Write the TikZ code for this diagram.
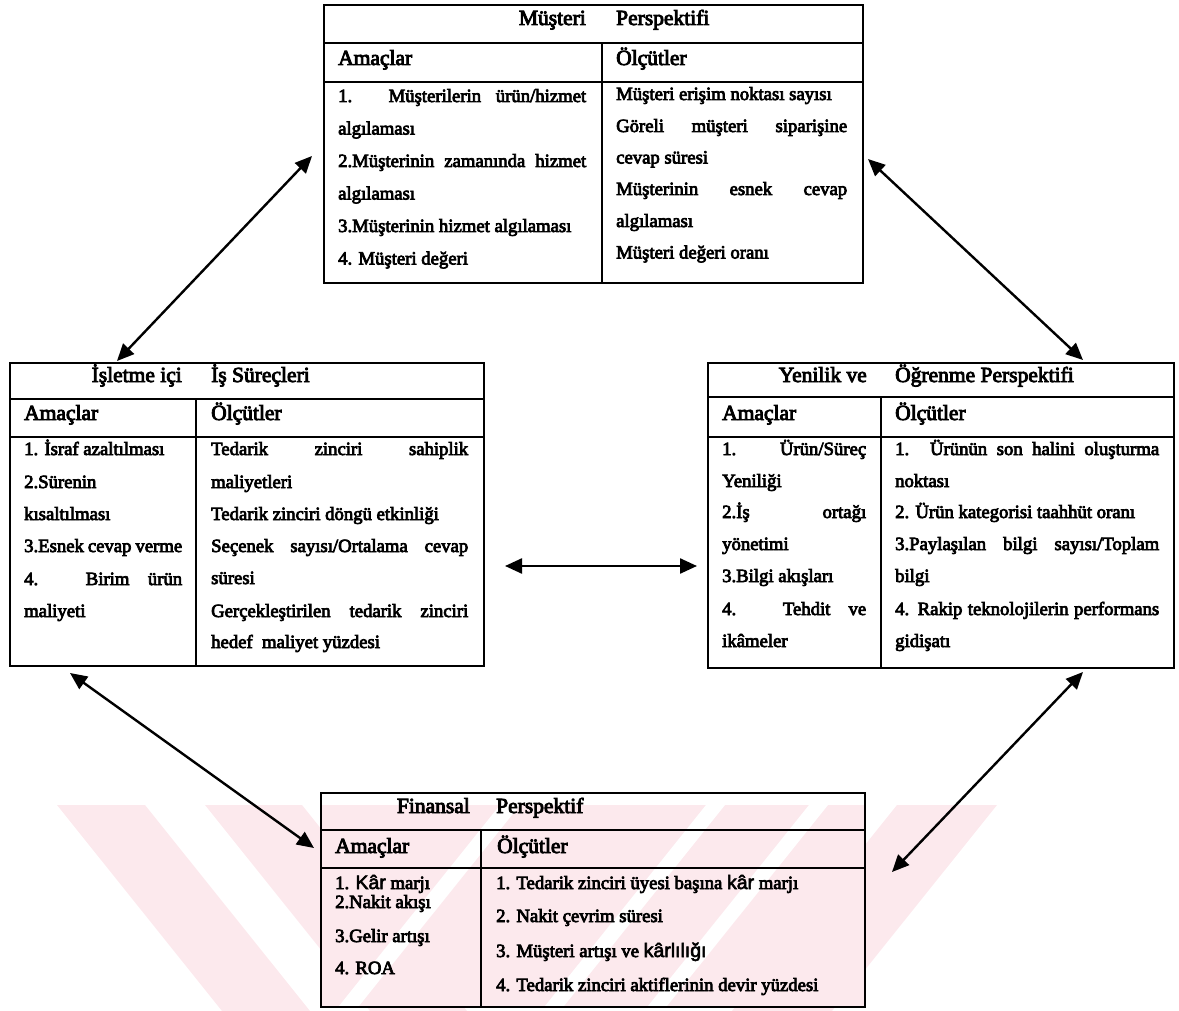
\documentclass[tikz,border=0pt]{standalone}
\usepackage{fontspec}
\setmainfont{Liberation Serif}
\usetikzlibrary{arrows.meta}
% slightly emboldened serif faces for the table texts
\font\bodyF="Liberation Serif:embolden=4" at 18.7pt
\font\headF="Liberation Serif:embolden=4" at 21.5pt
\font\karF="Liberation Sans:embolden=3" at 19.5pt
\definecolor{wm}{RGB}{252,233,237}
\newcommand{\bodyfont}{\bodyF}
\newcommand{\headfont}{\headF}
\newcommand{\jline}[2]{\makebox[#1][s]{#2}}
\newcommand{\kar}[1]{{\karF #1}}

\tikzset{
  frame/.style={draw, line width=1.8pt, inner sep=0pt, anchor=north west},
  rule/.style={line width=1.8pt},
  txt/.style={anchor=base west, inner sep=0pt, font=\bodyfont},
  titl/.style={anchor=base east, inner sep=0pt, font=\headfont},
  head/.style={anchor=base west, inner sep=0pt, font=\headfont},
  link/.style={line width=2.4pt,
    {Triangle[length=17pt,width=15pt]}-{Triangle[length=17pt,width=15pt]}},
}

\begin{document}
\begin{tikzpicture}[x=1pt,y=-1pt]
\useasboundingbox (0,0) rectangle (1179,1011);

% faint background stripes
\begin{scope}[fill=wm]
  \fill (57,805) -- (145,805) -- (310,1011) -- (222,1011) -- cycle;
  \fill (205,805) -- (302,805) -- (467,1011) -- (370,1011) -- cycle;
  \fill (897,805) -- (997,805) -- (832,1011) -- (732,1011) -- cycle;
  \fill (320,805) rectangle (864,1006);
\end{scope}
\begin{scope}
  \clip (320,805) rectangle (864,1006);
  \fill[white] (500,805) -- (520,805) -- (359,1006) -- (339,1006) -- cycle;
  \fill[white] (706,805) -- (725,805) -- (564,1006) -- (545,1006) -- cycle;
  \fill[white] (809,805) -- (828,805) -- (667,1006) -- (648,1006) -- cycle;
\end{scope}

% ---------------- Müşteri Perspektifi ----------------
\node[frame, minimum width=539pt, minimum height=278pt] (mp) at (323,4) {};
\draw[rule] (323,43) -- (862,43);
\draw[rule] (323,82) -- (862,82);
\draw[rule] (602,43) -- (602,282);
\node[titl] (mpt1) at (586,25) {Müşteri};
\node[head] (mpt2) at (616,25) {Perspektifi};
\node[head] (mph1) at (338,65) {Amaçlar};
\node[head] (mph2) at (616,65) {Ölçütler};
\node[txt] (mpa1) at (338,102) {\jline{248pt}{1. Müşterilerin ürün/hizmet}};
\node[txt] (mpa2) at (338,134.5) {algılaması};
\node[txt] (mpa3) at (338,167) {\jline{248pt}{2.Müşterinin zamanında hizmet}};
\node[txt] (mpa4) at (338,199.5) {algılaması};
\node[txt] (mpa5) at (338,232) {3.Müşterinin hizmet algılaması};
\node[txt] (mpa6) at (338,264.5) {4. Müşteri değeri};
\node[txt] (mpo1) at (616,100) {Müşteri erişim noktası sayısı};
\node[txt] (mpo2) at (616,132) {\jline{231pt}{Göreli müşteri siparişine}};
\node[txt] (mpo3) at (616,163.5) {cevap süresi};
\node[txt] (mpo4) at (616,195) {\jline{231pt}{Müşterinin esnek cevap}};
\node[txt] (mpo5) at (616,227) {algılaması};
\node[txt] (mpo6) at (616,258.5) {Müşteri değeri oranı};

% ---------------- İşletme içi İş Süreçleri ----------------
\node[frame, minimum width=474pt, minimum height=303pt] (ib) at (9,362) {};
\draw[rule] (9,399) -- (483,399);
\draw[rule] (9,437) -- (483,437);
\draw[rule] (196,399) -- (196,665);
\node[titl] (ibt1) at (182,382) {İşletme içi};
\node[head] (ibt2) at (211,382) {İş Süreçleri};
\node[head] (ibh1) at (24,420) {Amaçlar};
\node[head] (ibh2) at (211,420) {Ölçütler};
\node[txt] (iba1) at (24,455) {1. İsraf azaltılması};
\node[txt] (iba2) at (24,488) {2.Sürenin};
\node[txt] (iba3) at (24,520) {kısaltılması};
\node[txt] (iba4) at (24,552) {\jline{158pt}{3.Esnek cevap verme}};
\node[txt] (iba5) at (24,585) {\jline{158pt}{4. Birim ürün}};
\node[txt] (iba6) at (24,617) {maliyeti};
\node[txt] (ibo1) at (211,455) {\jline{257pt}{Tedarik zinciri sahiplik}};
\node[txt] (ibo2) at (211,488) {maliyetleri};
\node[txt] (ibo3) at (211,520) {Tedarik zinciri döngü etkinliği};
\node[txt] (ibo4) at (211,552) {\jline{257pt}{Seçenek sayısı/Ortalama cevap}};
\node[txt] (ibo5) at (211,584) {süresi};
\node[txt] (ibo6) at (211,617) {\jline{257pt}{Gerçekleştirilen tedarik zinciri}};
\node[txt] (ibo7) at (211,648) {hedef\ \ maliyet yüzdesi};

% ---------------- Yenilik ve Öğrenme Perspektifi ----------------
\node[frame, minimum width=466pt, minimum height=305pt] (yo) at (707,362) {};
\draw[rule] (707,397) -- (1173,397);
\draw[rule] (707,437) -- (1173,437);
\draw[rule] (881,397) -- (881,667);
\node[titl] (yot1) at (867,382) {Yenilik ve};
\node[head] (yot2) at (895,382) {Öğrenme Perspektifi};
\node[head] (yoh1) at (722,420) {Amaçlar};
\node[head] (yoh2) at (895,420) {Ölçütler};
\node[txt] (yoa1) at (722,455) {\jline{144pt}{1. Ürün/Süreç}};
\node[txt] (yoa2) at (722,487) {Yeniliği};
\node[txt] (yoa3) at (722,518) {\jline{144pt}{2.İş ortağı}};
\node[txt] (yoa4) at (722,550) {yönetimi};
\node[txt] (yoa5) at (722,582) {3.Bilgi akışları};
\node[txt] (yoa6) at (722,615) {\jline{144pt}{4. Tehdit ve}};
\node[txt] (yoa7) at (722,647) {ikâmeler};
\node[txt] (yoo1) at (895,455) {\jline{264pt}{1. Ürünün son halini oluşturma}};
\node[txt] (yoo2) at (895,487) {noktası};
\node[txt] (yoo3) at (895,518) {2. Ürün kategorisi taahhüt oranı};
\node[txt] (yoo4) at (895,550) {\jline{264pt}{3.Paylaşılan bilgi sayısı/Toplam}};
\node[txt] (yoo5) at (895,582) {bilgi};
\node[txt] (yoo6) at (895,615) {\jline{264pt}{4. Rakip teknolojilerin performans}};
\node[txt] (yoo7) at (895,647) {gidişatı};

% ---------------- Finansal Perspektif ----------------
\node[frame, minimum width=544pt, minimum height=214pt] (fp) at (320,792) {};
\draw[rule] (320,830) -- (864,830);
\draw[rule] (320,868) -- (864,868);
\draw[rule] (481,830) -- (481,1006);
\node[titl] (fpt1) at (470,813) {Finansal};
\node[head] (fpt2) at (496,813) {Perspektif};
\node[head] (fph1) at (335,853) {Amaçlar};
\node[head] (fph2) at (497,853) {Ölçütler};
\node[txt] (fpa1) at (335,889) {1. \kar{Kâr} marjı};
\node[txt] (fpa2) at (335,908) {2.Nakit akışı};
\node[txt] (fpa3) at (335,942) {3.Gelir artışı};
\node[txt] (fpa4) at (335,974) {4. ROA};
\node[txt] (fpo1) at (496,889) {1. Tedarik zinciri üyesi başına \kar{kâr} marjı};
\node[txt] (fpo2) at (496,922) {2. Nakit çevrim süresi};
\node[txt] (fpo3) at (496,957) {3. Müşteri artışı ve \kar{kârlılığı}};
\node[txt] (fpo4) at (496,991) {4. Tedarik zinciri aktiflerinin devir yüzdesi};

% ---------------- two-way links ----------------
\coordinate (l1a) at (312,156);  \coordinate (l1b) at (117,361);
\coordinate (l2a) at (868,159);  \coordinate (l2b) at (1083,360);
\coordinate (l3a) at (505,566);  \coordinate (l3b) at (697,566);
\coordinate (l4a) at (70,673);   \coordinate (l4b) at (314,848);
\coordinate (l5a) at (1083,672); \coordinate (l5b) at (892,872);
\draw[link] (l1a) -- (l1b);
\draw[link] (l2a) -- (l2b);
\draw[link] (l3a) -- (l3b);
\draw[link] (l4a) -- (l4b);
\draw[link] (l5a) -- (l5b);
\end{tikzpicture}
\end{document}
